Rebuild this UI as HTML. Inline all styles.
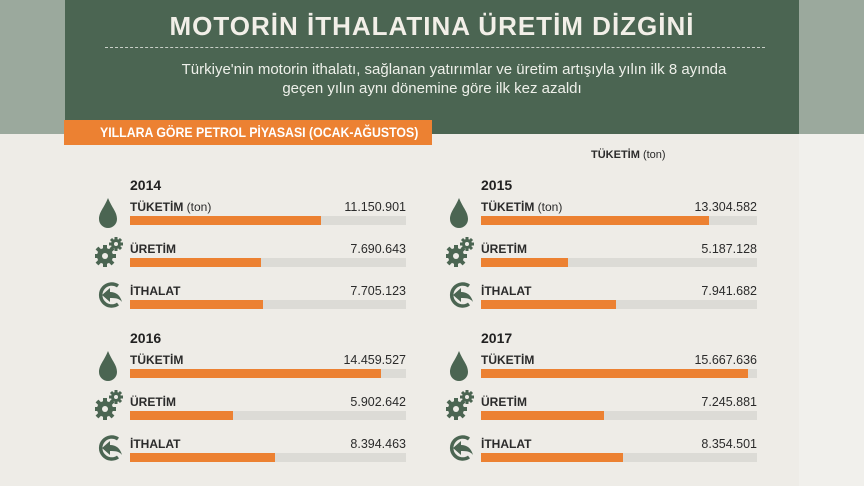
<!DOCTYPE html>
<html><head><meta charset="utf-8"><style>
body{margin:0;width:864px;height:486px;overflow:hidden;background:#eeece7;font-family:"Liberation Sans",sans-serif;position:relative}
.a{position:absolute}
.t{position:absolute;font-size:12px;color:#2b2b2b;white-space:nowrap}
.y{font-weight:bold;font-size:14px;color:#222}
.bg{position:absolute;height:9px;background:#dcdbd6}
.fg{position:absolute;left:0;top:0;height:9px;background:#ec8132}
</style></head><body>
<div class="a" style="left:0;top:0;width:864px;height:134px;background:#9ba99d"></div>
<div class="a" style="left:65px;top:0;width:734px;height:134px;background:#4b6552"></div>
<div class="a" style="left:799px;top:134px;width:65px;height:352px;background:#f1f0ec"></div>
<div class="a" style="left:65px;top:11px;width:734px;text-align:center;color:#f2efe8;font-weight:bold;font-size:26px;letter-spacing:1px">MOTORİN İTHALATINA ÜRETİM DİZGİNİ</div>
<div class="a" style="left:105px;top:47px;width:660px;border-top:1.5px dashed #c9cfc8"></div>
<div class="a" style="left:104px;top:60px;width:700px;text-align:center;color:#eef0ea;font-size:15px;line-height:19px">Türkiye'nin motorin ithalatı, sağlanan yatırımlar ve üretim artışıyla yılın ilk 8 ayında<br><span style="position:relative;left:-22px">geçen yılın aynı dönemine göre ilk kez azaldı</span></div>
<div class="a" style="left:64px;top:120px;width:368px;height:25px;background:#ec8132"></div>
<div class="a" style="left:100px;top:124px;color:#fff;font-weight:bold;font-size:14px;transform:scaleX(0.88);transform-origin:left">YILLARA GÖRE PETROL PİYASASI (OCAK-AĞUSTOS)</div>
<div class="t" style="left:591px;top:149px;font-size:11px"><b>TÜKETİM</b> (ton)</div>

<svg width="0" height="0" style="position:absolute"><defs>
<g id="drop"><path d="M10 0 C6 10 1 14 1 21 A9 9 0 0 0 19 21 C19 14 14 10 10 0Z" fill="#4b6552"/></g>
<g id="gear" fill="#4b6552"><circle cx="10" cy="19" r="8"/><g stroke="#4b6552" stroke-width="4"><line x1="10" y1="8" x2="10" y2="30"/><line x1="-1" y1="19" x2="21" y2="19"/><line x1="2" y1="11" x2="18" y2="27"/><line x1="18" y1="11" x2="2" y2="27"/></g><circle cx="10" cy="19" r="3" fill="#eeece7"/><circle cx="21" cy="7" r="5"/><g stroke="#4b6552" stroke-width="3"><line x1="21" y1="0" x2="21" y2="14"/><line x1="14" y1="7" x2="28" y2="7"/><line x1="16" y1="2" x2="26" y2="12"/><line x1="26" y1="2" x2="16" y2="12"/></g><circle cx="21" cy="7" r="2" fill="#eeece7"/></g>
<g id="imp"><path d="M20 4 A11 11 0 1 0 20 22" fill="none" stroke="#4b6552" stroke-width="3.5"/><path d="M4 13 L12 6 L12 10 C18 10 22 13 24 20 C21 16 17 16 12 16 L12 20Z" fill="#4b6552"/></g>
</defs></svg>

<div id="blocks"></div>
<script>
var B=[[130,108,186,"2014",[["TÜKETİM <span style='font-weight:normal'>(ton)</span>","11.150.901",191],["ÜRETİM","7.690.643",131],["İTHALAT","7.705.123",133]]],
[481,459,186,"2015",[["TÜKETİM <span style='font-weight:normal'>(ton)</span>","13.304.582",228],["ÜRETİM","5.187.128",87],["İTHALAT","7.941.682",135]]],
[130,108,339,"2016",[["TÜKETİM","14.459.527",251],["ÜRETİM","5.902.642",103],["İTHALAT","8.394.463",145]]],
[481,459,339,"2017",[["TÜKETİM","15.667.636",267],["ÜRETİM","7.245.881",123],["İTHALAT","8.354.501",142]]]];
var h="";
B.forEach(function(b){var x=b[0],ix=b[1],y=b[2];
h+='<div class="t y" style="left:'+x+'px;top:'+(y-9)+'px">'+b[3]+'</div>';
var icons=["drop","gear","imp"];
b[4].forEach(function(r,i){var ly=y+14+i*42;
h+='<div class="t" style="left:'+x+'px;top:'+(ly)+'px;font-weight:bold">'+r[0]+'</div>';
h+='<div class="t" style="left:'+(x+176)+'px;width:100px;text-align:right;top:'+ly+'px;font-size:12.5px">'+r[1]+'</div>';
h+='<div class="bg" style="left:'+x+'px;top:'+(ly+16)+'px;width:276px"><div class="fg" style="width:'+r[2]+'px"></div></div>';
var iy=[ly-2,ly-5,ly-2][i];
h+='<svg class="a" style="left:'+(ix-(i==1?13:10))+'px;top:'+iy+'px" width="30" height="32" viewBox="0 0 30 32"><use href="#'+icons[i]+'"/></svg>';
});});
document.getElementById("blocks").innerHTML=h;
</script>
</body></html>
